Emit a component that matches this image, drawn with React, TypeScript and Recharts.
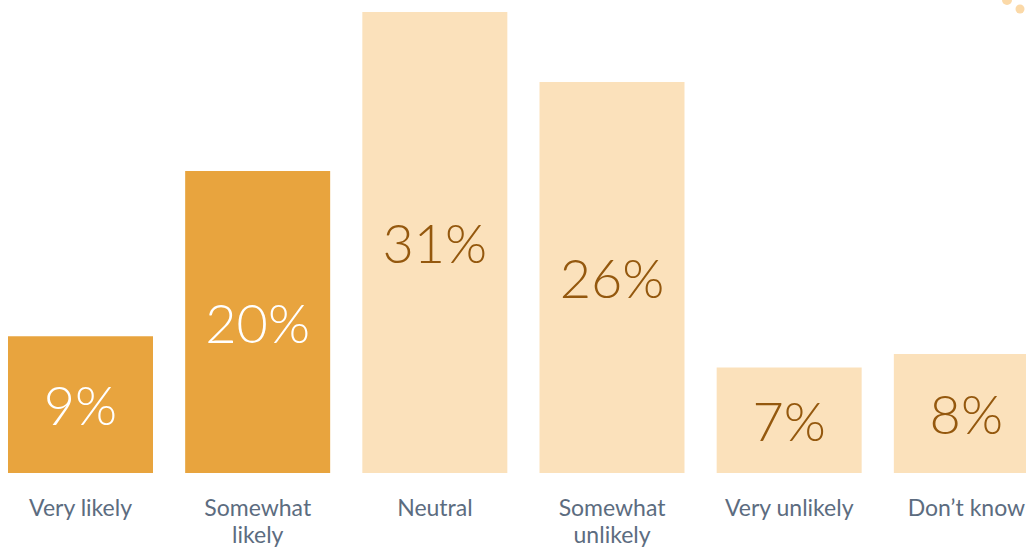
import React from "react";
import { BarChart, Bar, XAxis, YAxis, Cell, LabelList } from "recharts";

const categories = ["Very likely", "Somewhat\nlikely", "Neutral", "Somewhat\nunlikely", "Very unlikely", "Don’t know"];
const values = [9.2, 20.3, 31, 26.3, 7.1, 8];
const valueLabels = ["9%", "20%", "31%", "26%", "7%", "8%"];
const highlighted = [true, true, false, false, false, false];

const data = categories.map((c, i) => ({ name: c, value: values[i], label: valueLabels[i], hi: highlighted[i] }));

const DARK = "#E8A43E";
const LIGHT = "#FBE1BB";
const BROWN = "#94580E";
const GREY = "#5C6C80";

const Tick = (props: any) => {
  const { x, y, payload } = props;
  const lines = String(payload.value).split("\n");
  return (
    <text x={x} y={y} textAnchor="middle" fill={GREY} fontFamily="Lato, 'Open Sans', sans-serif" fontSize={23} fontWeight={400}>
      {lines.map((l, i) => (
        <tspan key={i} x={x} dy={i === 0 ? 35 : 27}>{l}</tspan>
      ))}
    </text>
  );
};

const ValueLabel = (props: any) => {
  const { x, y, width, height, index } = props;
  const d = data[index];
  return (
    <text
      x={x + width / 2}
      y={y + height / 2}
      textAnchor="middle"
      dominantBaseline="central"
      fill={d.hi ? "#FFFFFF" : BROWN}
      fontFamily="Lato, 'Open Sans', sans-serif"
      fontWeight={300}
      fontSize={54}
    >
      {d.label}
    </text>
  );
};

export default function App() {
  return (
    <div style={{ position: "fixed", top: 0, left: 0, width: 1026, height: 548, overflow: "hidden", background: "#fff" }}>
      <div style={{ position: "absolute", left: -8, top: 8 }}>
        <BarChart width={1063} height={540} data={data} margin={{ top: 4, right: 0, bottom: 0, left: 0 }}>
          <YAxis hide domain={[0, 31]} />
          <XAxis dataKey="name" axisLine={false} tickLine={false} interval={0} height={75} tick={<Tick />} />
          <Bar dataKey="value" barSize={145} isAnimationActive={false}>
            {data.map((d, i) => (
              <Cell key={i} fill={d.hi ? DARK : LIGHT} />
            ))}
            <LabelList dataKey="label" content={<ValueLabel />} />
          </Bar>
        </BarChart>
      </div>
      <svg style={{ position: "absolute", top: 0, left: 0, pointerEvents: "none" }} width={1026} height={20}>
        <circle cx={1007} cy={0} r={5} fill="#FBD9A8" />
        <circle cx={1020} cy={9} r={4.5} fill="#FBD9A8" />
      </svg>
    </div>
  );
}
